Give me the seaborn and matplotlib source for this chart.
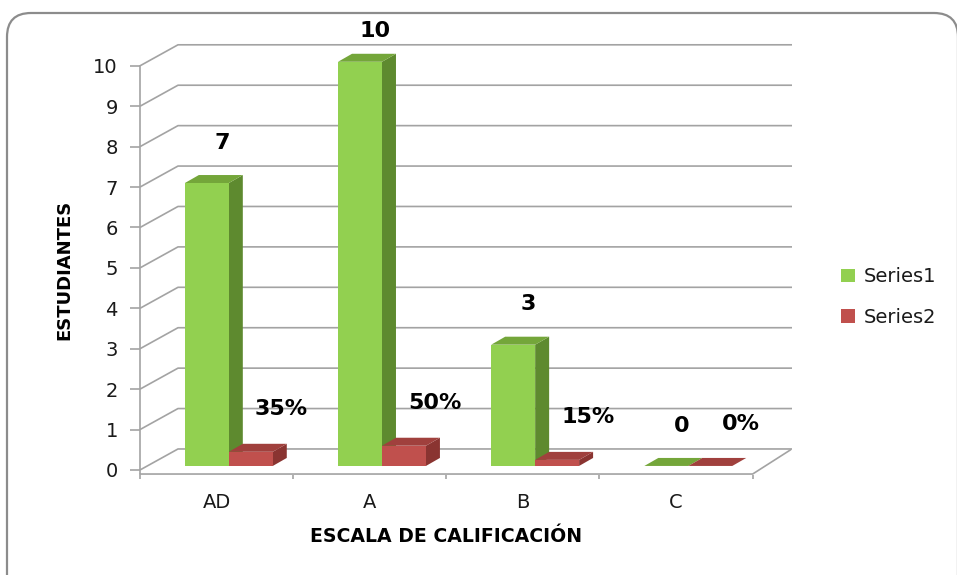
import matplotlib
matplotlib.use("Agg")
import matplotlib.pyplot as plt
import seaborn as sns
import pandas as pd
from matplotlib.patches import Polygon, FancyBboxPatch, Patch

# ---- data ----
categories = ["AD", "A", "B", "C"]
series1 = [7, 10, 3, 0]
series2 = [0.35, 0.50, 0.15, 0.0]
series2_labels = ["35%", "50%", "15%", "0%"]
series1_labels = ["7", "10", "3", "0"]
series_names = ["Series1", "Series2"]
y_ticks = list(range(0, 11))
x_title = "ESCALA DE CALIFICACIÓN"
y_title = "ESTUDIANTES"

df = pd.DataFrame({
    "cat": categories * 2,
    "value": series1 + series2,
    "series": [series_names[0]] * len(categories) + [series_names[1]] * len(categories),
})

sns.set_theme(style="white")
plt.rcParams["font.family"] = ["DejaVu Sans"]

W, H = 957, 575
fig = plt.figure(figsize=(W / 100, H / 100), dpi=100)
fig.patch.set_facecolor("white")
ax = fig.add_axes([140 / W, (H - 475) / H, (792 - 140) / W, (475 - 25) / H])
ax.set_facecolor("none")

front_colors = ["#92D050", "#C0504D"]
side_colors = ["#5E8A2F", "#8A3431"]
top_colors = ["#74A63A", "#A0403D"]
grid_color = "#A3A3A3"

sns.barplot(data=df, x="cat", y="value", hue="series", order=categories,
            hue_order=series_names, palette=front_colors, width=0.574, gap=0,
            dodge=True, saturation=1, errorbar=None, legend=False,
            linewidth=0, ax=ax)

xmin, xmax = -0.496, 3.757
ymin, ymax = -0.124, 11.01
ax.set_xlim(xmin, xmax)
ax.set_ylim(ymin, ymax)

# depth vectors (3D look)
wdx, wdy = 0.248, 0.52      # wall depth
bdx, bdy = 0.0913, 0.198    # bar depth
shift_x, shift_y = 0.08, 0.1

# back wall gridlines + left wall diagonals
for v in y_ticks:
    ax.plot([-0.5, -0.5 + wdx, xmax], [v, v + wdy, v + wdy], color=grid_color,
            lw=1.2, zorder=1, clip_on=False, solid_capstyle="butt")
# floor front edge and right diagonal
ax.plot([-0.5, 3.5, 3.5 + wdx], [-0.1, -0.1, wdy - 0.02], color=grid_color,
        lw=1.2, zorder=1, clip_on=False)

# 3D faces for bars
for k, cont in enumerate(ax.containers):
    zf = 3 + k * 0.5
    for rect in cont:
        rect.set_x(rect.get_x() + shift_x)
        rect.set_y(shift_y)
        rect.set_zorder(zf)
        x0, w = rect.get_x(), rect.get_width()
        y0, h = rect.get_y(), rect.get_height()
        side = Polygon([(x0 + w, y0), (x0 + w + bdx, y0 + bdy),
                        (x0 + w + bdx, y0 + h + bdy), (x0 + w, y0 + h)],
                       closed=True, facecolor=side_colors[k], edgecolor="none",
                       zorder=zf - 0.1)
        top = Polygon([(x0, y0 + h), (x0 + bdx, y0 + h + bdy),
                       (x0 + w + bdx, y0 + h + bdy), (x0 + w, y0 + h)],
                      closed=True, facecolor=top_colors[k], edgecolor="none",
                      zorder=zf - 0.1)
        ax.add_patch(side)
        ax.add_patch(top)

# data labels (kept inside the plot area like the original)
label_sets = [(series1, series1_labels, 0.10, 1.1), (series2, series2_labels, 0.20, 1.15)]
for k, (vals, labs, dx, dy) in enumerate(label_sets):
    for rect, v, lab in zip(ax.containers[k], vals, labs):
        cx = rect.get_x() + rect.get_width() / 2
        ax.text(cx + dx, min(v + dy, 10.85), lab, ha="center", va="center", fontsize=16,
                fontweight="bold", color="black", zorder=6)

# axes styling
for s in ["top", "right", "bottom"]:
    ax.spines[s].set_visible(False)
ax.spines["left"].set_color(grid_color)
ax.spines["left"].set_linewidth(1.2)
ax.spines["left"].set_bounds(-0.1, 10)
ax.set_yticks(y_ticks)
ax.set_yticklabels([str(t) for t in y_ticks])
ax.tick_params(axis="y", which="major", direction="out", length=7, width=1.2,
               color=grid_color, pad=9, labelsize=14, labelcolor="#1a1a1a", left=True)
ax.set_xticks(range(len(categories)))
ax.set_xticklabels(categories)
ax.tick_params(axis="x", which="major", length=0, pad=13, labelsize=14, labelcolor="#1a1a1a")
ax.set_xticks([i - 0.5 for i in range(len(categories) + 1)], minor=True)
ax.tick_params(axis="x", which="minor", direction="out", length=3, width=1.2,
               color=grid_color, bottom=True)
ax.set_xlabel("")
ax.set_ylabel("")
ax.grid(False)

fig.text(64 / W, 1 - 270 / H, y_title, rotation=90, ha="center", va="center",
         fontsize=13, fontweight="bold", color="black")
fig.text(446 / W, 1 - 537 / H, x_title, ha="center", va="center",
         fontsize=13.6, fontweight="bold", color="black")

handles = [Patch(facecolor=c, edgecolor="none") for c in front_colors]
ax.legend(handles, series_names, loc="center left",
          bbox_to_anchor=(841 / W, 1 - 297 / H), bbox_transform=fig.transFigure,
          frameon=False, handlelength=0.72, handleheight=0.72, handletextpad=0.45,
          labelspacing=1.1, borderpad=0, borderaxespad=0, fontsize=14,
          labelcolor="#1a1a1a")

border = FancyBboxPatch((7, -30), 951, 592, boxstyle="round,pad=0,rounding_size=24",
                        transform=None, fill=False, edgecolor="#8C8C8C", lw=1.6)
fig.add_artist(border)

fig.savefig("out.png", dpi=100)
